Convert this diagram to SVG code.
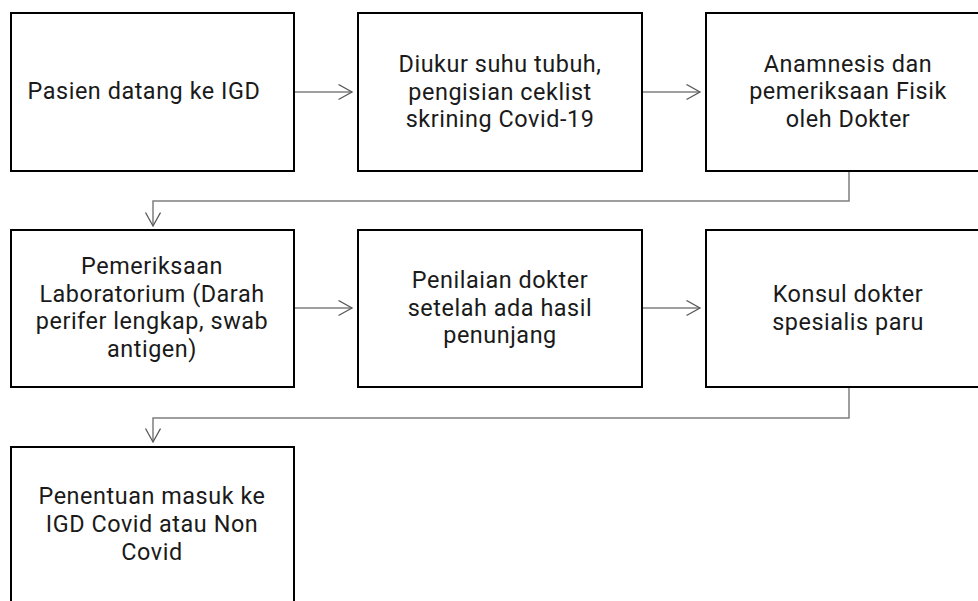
<svg xmlns="http://www.w3.org/2000/svg" width="978" height="601" viewBox="0 0 978 601">
<defs>
<style>
.box{fill:#fff;stroke:#000;stroke-width:2}
.lbl{font-family:Roboto,"Open Sans",sans-serif;font-size:23.4px;letter-spacing:0.55px;fill:#1a1a1a;text-anchor:middle}
.con{fill:none;stroke:#7f7f7f;stroke-width:1.5;marker-end:url(#arr)}
</style>
<marker id="arr" markerUnits="userSpaceOnUse" markerWidth="16" markerHeight="18" refX="14" refY="8" orient="auto">
<path d="M0.5,0.5 L14,8 L0.5,15.5" fill="none" stroke="#595959" stroke-width="1.3"/>
</marker>
</defs>
<rect width="978" height="601" fill="#fff"/>
<g id="connectors">
<path class="con" d="M294,92 H352"/>
<path class="con" d="M642,92 H700"/>
<path class="con" d="M849,171 V201 H153 V226"/>
<path class="con" d="M294,308 H352"/>
<path class="con" d="M642,308 H700"/>
<path class="con" d="M849,387 V418 H153 V442"/>
</g>
<g id="n1">
<rect class="box" x="11" y="13" width="283" height="158"/>
<text class="lbl" x="144" y="99">Pasien datang ke IGD</text>
</g>
<g id="n2">
<rect class="box" x="358" y="13" width="284" height="158"/>
<text class="lbl" y="72"><tspan x="500">Diukur suhu tubuh,</tspan><tspan x="500" dy="27.6">pengisian ceklist</tspan><tspan x="500" dy="27.6">skrining Covid-19</tspan></text>
</g>
<g id="n3">
<rect class="box" x="706" y="13" width="283" height="158"/>
<text class="lbl" y="71.5"><tspan x="848">Anamnesis dan</tspan><tspan x="848" dy="27.8">pemeriksaan Fisik</tspan><tspan x="848" dy="27.8">oleh Dokter</tspan></text>
</g>
<g id="n4">
<rect class="box" x="11" y="230" width="283" height="157"/>
<text class="lbl" y="274"><tspan x="152">Pemeriksaan</tspan><tspan x="152" dy="27.7">Laboratorium (Darah</tspan><tspan x="152" dy="27.7">perifer lengkap, swab</tspan><tspan x="152" dy="27.7">antigen)</tspan></text>
</g>
<g id="n5">
<rect class="box" x="358" y="230" width="284" height="157"/>
<text class="lbl" y="288"><tspan x="500">Penilaian dokter</tspan><tspan x="500" dy="27.6">setelah ada hasil</tspan><tspan x="500" dy="27.6">penunjang</tspan></text>
</g>
<g id="n6">
<rect class="box" x="706" y="230" width="283" height="157"/>
<text class="lbl" y="302"><tspan x="848">Konsul dokter</tspan><tspan x="848" dy="27.6">spesialis paru</tspan></text>
</g>
<g id="n7">
<rect class="box" x="11" y="447" width="283" height="200"/>
<text class="lbl" y="504"><tspan x="152">Penentuan masuk ke</tspan><tspan x="152" dy="28">IGD Covid atau Non</tspan><tspan x="152" dy="28">Covid</tspan></text>
</g>
</svg>
